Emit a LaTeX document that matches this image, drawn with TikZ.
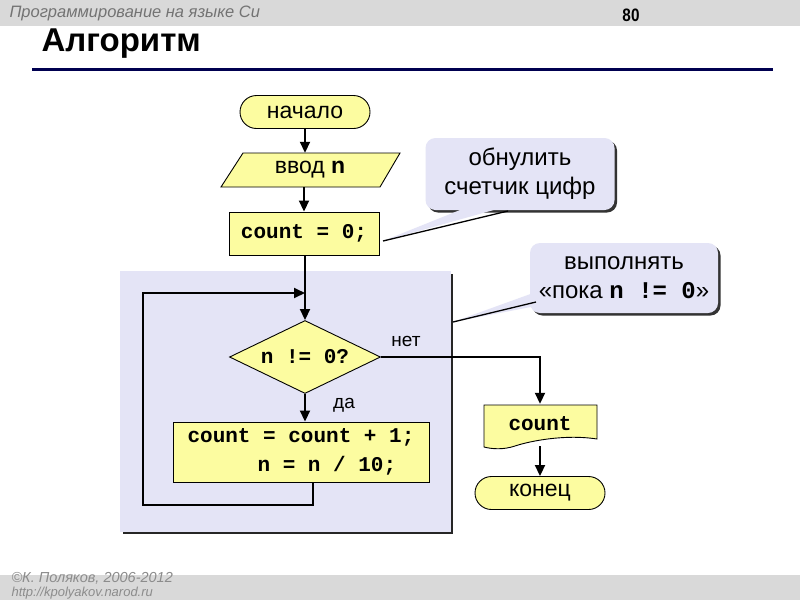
\documentclass[tikz,border=0pt]{standalone}
\usepackage{fontspec}
\setmainfont{Liberation Sans}
\setmonofont{Liberation Mono}
\newfontfamily\narrowfont[FakeStretch=0.85]{Liberation Sans}
\usetikzlibrary{arrows.meta,shapes.geometric,shapes.misc,shadows}
\definecolor{yel}{RGB}{252,252,160}
\definecolor{lav}{RGB}{228,228,246}
\definecolor{band}{RGB}{217,217,217}
\definecolor{navy}{RGB}{0,0,80}
\tikzset{
  box/.style={draw=black, line width=0.9pt, fill=yel, inner sep=0pt, font=\fontsize{23}{27}\selectfont},
  term/.style={box, rounded rectangle, minimum width=130pt, minimum height=33pt},
  codef/.style={font=\fontsize{21}{29}\selectfont\ttfamily\bfseries},
  arr/.style={line width=1.8pt, -{Triangle[length=11pt,width=10pt]}},
  conn/.style={line width=1.8pt},
  callout/.style={fill=lav, rounded corners=10pt, align=center, font=\fontsize{24}{29}\selectfont,
     drop shadow={fill=black!80, shadow xshift=2.5pt, shadow yshift=-2.5pt, opacity=1}},
  lbl/.style={font=\fontsize{19}{21}\selectfont},
  ghost/.style={inner sep=0pt}
}
\begin{document}
\begin{tikzpicture}[x=1pt,y=-1pt]
\clip (0,0) rectangle (800,600);
\fill[white] (0,0) rectangle (800,600);
% header / footer
\fill[band] (0,0) rectangle (800,26);
\node[anchor=west, text=black!55, font=\itshape\fontsize{16.5}{18}\selectfont] (hdr) at (6,13) {Программирование на языке Си};
\node[font=\narrowfont\bfseries\fontsize{18}{20}\selectfont] (pg) at (631,15) {80};
\node[anchor=west, font=\bfseries\fontsize{33}{36}\selectfont] (title) at (38,44) {Алгоритм};
\draw[navy, line width=3pt] (32,69) -- (773,69);
\fill[band] (0,575) rectangle (800,600);
\node[anchor=west, text=black!45, font=\itshape\fontsize{14.5}{16}\selectfont] (ftr1) at (8,578) {©К. Поляков, 2006-2012};
\node[anchor=west, text=black!45, font=\itshape\fontsize{13}{15}\selectfont] (ftr2) at (8,593) {http://kpolyakov.narod.ru};

% loop region
\fill[black!85] (123,274) rectangle (453,534);
\fill[lav] (120,271) rectangle (451,532);

% callout 1
\node[callout, minimum width=189pt, minimum height=72pt] (c1) at (520,174) {обнулить\\счетчик цифр};
% callout 2
\node[callout, minimum width=188pt, minimum height=70pt] (c2) at (624,278) {выполнять\\«пока {\ttfamily\bfseries n != 0}»};

% flowchart nodes
\node[term] (start) at (305,112) {начало};
\draw[box] (243,153) -- (400,153) -- (380,187) -- (221,187) -- cycle;
\node[ghost, minimum width=150pt, minimum height=34pt, font=\fontsize{23}{27}\selectfont] (inp) at (310,170) {ввод \textbf{n}};
\node[box, codef, minimum width=150pt, minimum height=43pt] (c0) at (304,233.5) {count = 0;};
\node[box, diamond, codef, minimum width=151pt, minimum height=73pt, aspect=2] (dia) at (305,357) {n != 0?};
\node[box, codef, minimum width=256pt, minimum height=60pt, align=left] (body) at (301,452) {count = count + 1;\\\hspace*{70pt}n = n / 10;};
\draw[box] (484,405) -- (597,405) -- (597,439) .. controls (565,434) and (530,441) .. (515,446) .. controls (503,450) and (492,449) .. (484,447) -- cycle;
\node[ghost, codef, minimum width=113pt, minimum height=40pt] (out) at (540,424) {count};
\node[term] (end) at (540,493) {конец};

% pointer wedges
\coordinate (p1) at (383,241);
\coordinate (p2) at (453,322);
\fill[lav] (p1) -- (470,206) -- (508,206) -- cycle;
\draw[line width=1.3pt] (p1) -- (508,211);
\fill[lav] (p2) -- (536,292) -- (536,306) -- cycle;
\draw[line width=1.3pt] (p2) -- (536,302);

% connectors
\draw[arr] (start.south) -- (start.south |- inp.north);
\draw[arr] (c0.north |- inp.south) -- (c0.north);
\draw[arr] (c0.south) -- (c0.south -| dia.north) -- (dia.north);
\draw[arr] (dia.south) -- (dia.south |- body.north);
\coordinate (lb) at (143,505);
\coordinate (lt) at (143,293);
\coordinate (lj) at (305,293);
\draw[arr] ([xshift=12pt]body.south) |- (lb) -- (lt) -- (lj);
\draw[arr] (dia.east) -| (out.north);
\draw[arr] (out.south) ++(0,2) -- (end.north);

\node[lbl] (no) at (406,341) {нет};
\node[lbl] (yes) at (344,405) {да};
\end{tikzpicture}
\end{document}
